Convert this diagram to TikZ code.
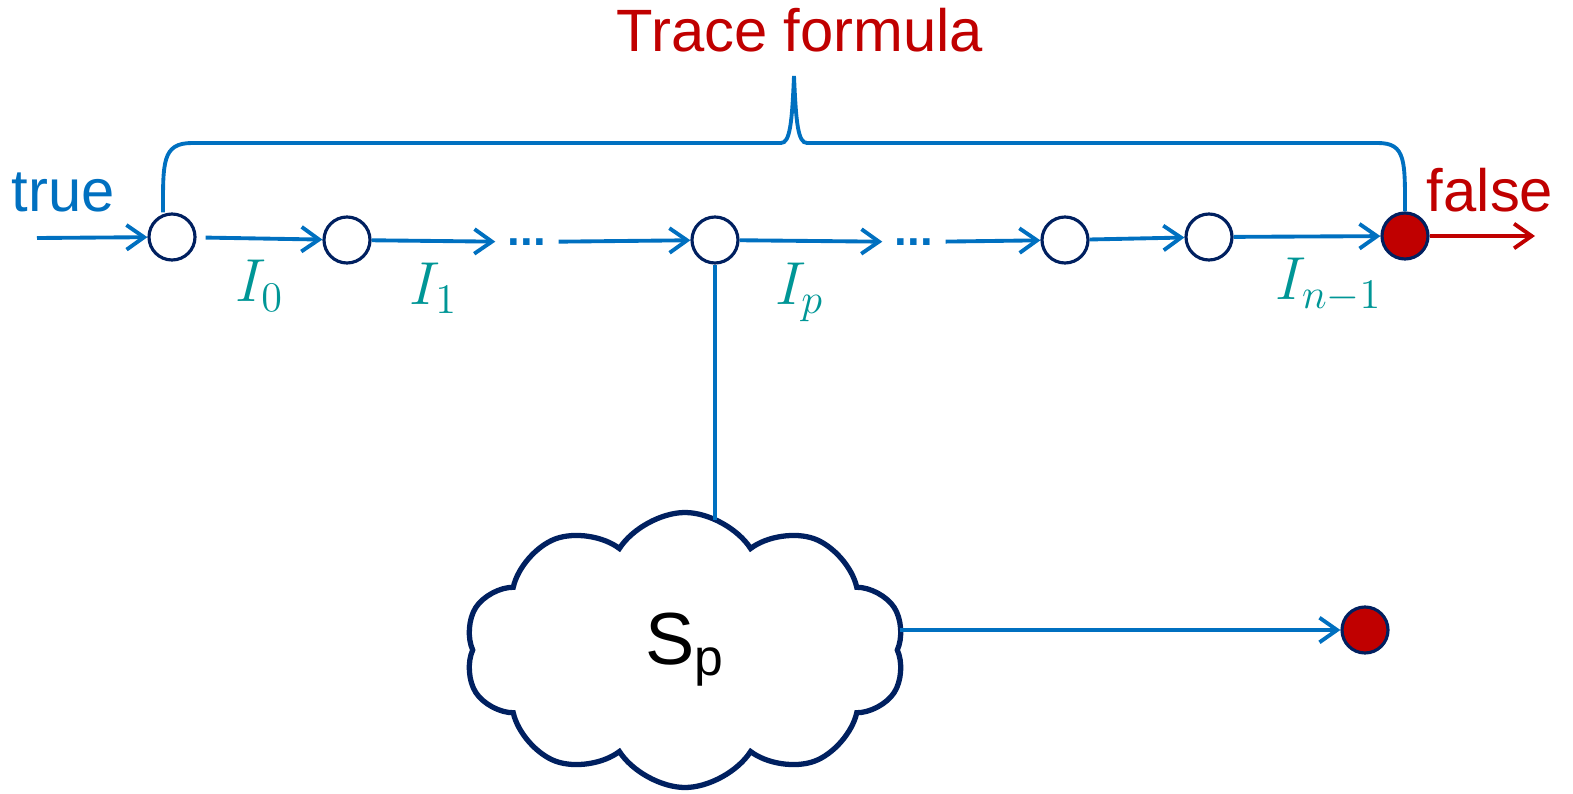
\documentclass[tikz,border=0pt]{standalone}
\usepackage{fontspec}
\setmainfont{Liberation Sans}
\usepackage{xcolor}
\usetikzlibrary{positioning, arrows.meta, shapes.symbols}
\definecolor{lineblue}{RGB}{0, 112, 192}
\definecolor{navy}{RGB}{0, 32, 96}
\definecolor{falsered}{RGB}{192, 0, 0}
\definecolor{lblteal}{RGB}{0, 150, 150}

\begin{document}
\begin{tikzpicture}[
    >={Straight Barb[length=5pt,width=7pt]},
    state/.style={
        circle,
        draw=navy,
        line width=0.9pt,
        fill=#1,
        minimum size=0.46cm,
        inner sep=0pt
    },
    state/.default=white,
    flow/.style={->, line width=1.1pt, lineblue},
    brace/.style={line width=1.1pt, lineblue},
    word/.style={font=\fontsize{17}{20}\selectfont, text=#1},
    word/.default=lineblue,
    ilbl/.style={font=\fontsize{17}{20}\selectfont, text=lblteal, inner sep=0pt},
    dotlbl/.style={font=\fontsize{13}{16}\selectfont\bfseries, text=lineblue, inner sep=0pt, minimum width=0.62cm}
]
\useasboundingbox (0,0) rectangle (15.73,7.93);

% === Trace: states ===
\node[state] (c0) at (1.72,5.56) {};
\node[state] (c1) at (3.47,5.53) {};
\node[dotlbl] (d1) at (5.27,5.51) {...};
\node[state] (c2) at (7.15,5.53) {};
\node[dotlbl] (d2) at (9.14,5.51) {...};
\node[state] (c3) at (10.65,5.53) {};
\node[state] (c4) at (12.09,5.56) {};
\node[state=falsered] (cf) at (14.05,5.57) {};

\coordinate (start) at (0.37,5.55);
\coordinate (stop) at (15.35,5.57);

\node[word] (tru) at (0.63,6.01) {true};
\node[word=falsered] (fls) at (14.9,6.03) {false};

% === Trace: arrows ===
\draw[flow] (start) -- (c0);
\draw[flow, shorten <=0.9mm] (c0) -- (c1) node[ilbl, midway, below=0.2cm] {$I_0$};
\draw[flow] (c1) -- (d1) node[ilbl, midway, below=0.2cm] {$I_1$};
\draw[flow] (d1) -- (c2);
\draw[flow] (c2) -- (d2) node[ilbl, pos=0.42, below=0.2cm] {$I_p$};
\draw[flow] (d2) -- (c3);
\draw[flow] (c3) -- (c4);
\draw[flow] (c4) -- (cf) node[ilbl, pos=0.65, below=0.2cm] {$I_{n-1}$};
\draw[->, line width=1.1pt, falsered] (cf) -- (stop);

% === Brace ===
\draw[brace] ([xshift=-0.9mm]c0.north) .. controls +(0,0.5) and +(-0.3,0) .. (1.92,6.50)
    -- (7.81,6.50) .. controls (7.90,6.50) and (7.92,6.70) .. (7.94,7.17)
    .. controls (7.96,6.70) and (7.98,6.50) .. (8.07,6.50)
    -- (13.78,6.50) .. controls +(0.28,0) and +(0,0.5) .. (cf.north);
\node[word=falsered] (title) at (8.0,7.63) {Trace formula};

% === Subsystem ===
\node[cloud, cloud puffs=10, cloud puff arc=115, cloud ignores aspect,
      draw=navy, line width=1.5pt, fill=white,
      minimum width=4.4cm, minimum height=2.75cm,
      font=\fontsize{21}{25}\selectfont, text=black] (sp) at (6.85,1.43) {S\textsubscript{p}};
\node[state=falsered] (bad) at (13.65,1.63) {};

\draw[line width=1.1pt, lineblue] (c2) -- ([yshift=-1mm]c2 |- sp.north);
\draw[flow] ([yshift=2mm]sp.east) -- (bad);

\end{tikzpicture}
\end{document}
